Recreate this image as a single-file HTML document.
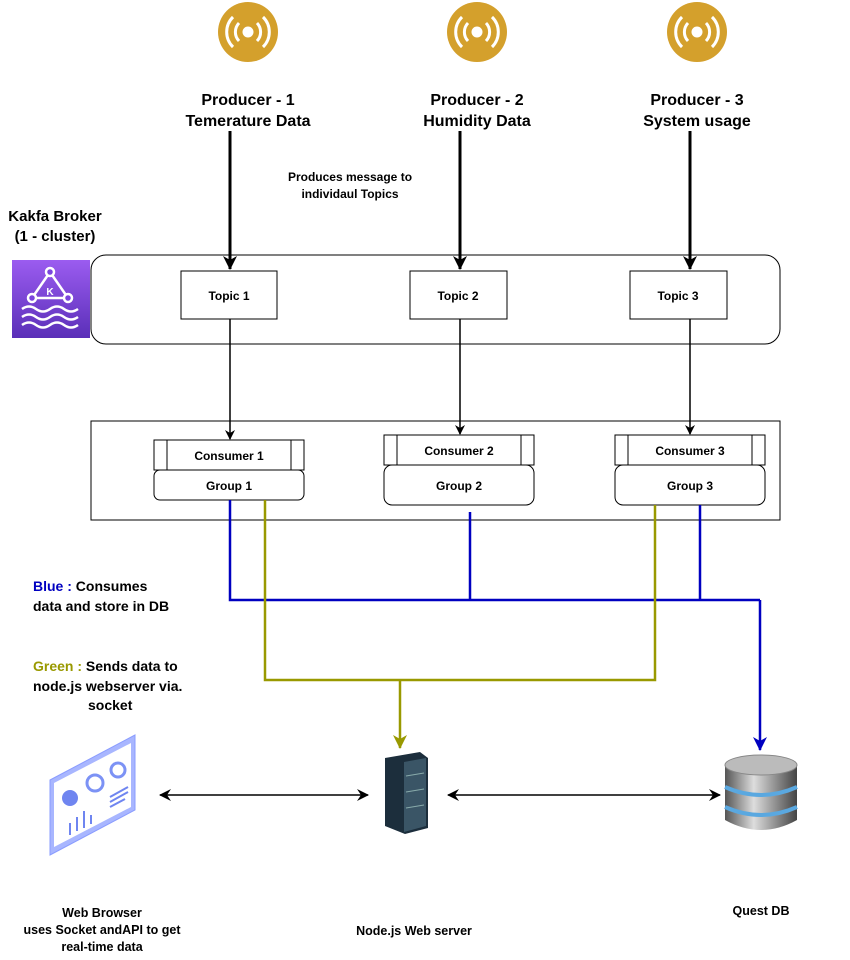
<!DOCTYPE html>
<html><head><style>body{margin:0;background:#fff}svg{display:block;font-family:"Liberation Sans",Arial,sans-serif;font-weight:bold}</style></head>
<body>
<svg width="850" height="960" viewBox="0 0 850 960" xmlns="http://www.w3.org/2000/svg">
<defs>
<marker id="ab" markerWidth="10" markerHeight="10" refX="9" refY="5" orient="auto" markerUnits="userSpaceOnUse"><path d="M0,0 L10,5 L0,10 L3,5z" fill="#000"/></marker>
<marker id="abt" markerWidth="14" markerHeight="14" refX="13" refY="7" orient="auto" markerUnits="userSpaceOnUse"><path d="M0,0 L14,7 L0,14 L4,7z" fill="#000"/></marker>
<marker id="ab2" markerWidth="12" markerHeight="12" refX="11" refY="6" orient="auto-start-reverse" markerUnits="userSpaceOnUse"><path d="M0,0 L12,6 L0,12 L4,6z" fill="#000"/></marker>
<marker id="ablue" markerWidth="14" markerHeight="14" refX="13" refY="7" orient="auto" markerUnits="userSpaceOnUse"><path d="M0,0 L14,7 L0,14 L4,7z" fill="#0000c0"/></marker>
<marker id="agreen" markerWidth="14" markerHeight="14" refX="13" refY="7" orient="auto" markerUnits="userSpaceOnUse"><path d="M0,0 L14,7 L0,14 L4,7z" fill="#999900"/></marker>
<linearGradient id="kg" x1="0" y1="0" x2="0" y2="1"><stop offset="0" stop-color="#9b5cf0"/><stop offset="1" stop-color="#5a2fb8"/></linearGradient>
<linearGradient id="dbg" x1="0" y1="0" x2="1" y2="0"><stop offset="0" stop-color="#555"/><stop offset=".4" stop-color="#ddd"/><stop offset="1" stop-color="#444"/></linearGradient>
</defs>
<g fill="#d4a02c">
<circle cx="248" cy="32" r="30"/><circle cx="477" cy="32" r="30"/><circle cx="697" cy="32" r="30"/>
</g>
<g fill="none" stroke="#fff" stroke-width="3">
<g transform="translate(248,32)"><circle r="4" fill="#fff"/><path d="M-9,-9 A13,13 0 0 0 -9,9 M9,-9 A13,13 0 0 1 9,9 M-15,-15 A21,21 0 0 0 -15,15 M15,-15 A21,21 0 0 1 15,15"/></g>
<g transform="translate(477,32)"><circle r="4" fill="#fff"/><path d="M-9,-9 A13,13 0 0 0 -9,9 M9,-9 A13,13 0 0 1 9,9 M-15,-15 A21,21 0 0 0 -15,15 M15,-15 A21,21 0 0 1 15,15"/></g>
<g transform="translate(697,32)"><circle r="4" fill="#fff"/><path d="M-9,-9 A13,13 0 0 0 -9,9 M9,-9 A13,13 0 0 1 9,9 M-15,-15 A21,21 0 0 0 -15,15 M15,-15 A21,21 0 0 1 15,15"/></g>
</g>
<g font-size="16" text-anchor="middle" fill="#000">
<text x="248" y="105">Producer - 1</text><text x="248" y="126">Temerature Data</text>
<text x="477" y="105">Producer - 2</text><text x="477" y="126">Humidity Data</text>
<text x="697" y="105">Producer - 3</text><text x="697" y="126">System usage</text>
</g>
<g font-size="12" text-anchor="middle"><text x="350" y="181">Produces message to</text><text x="350" y="198">individaul Topics</text></g>
<g font-size="15" text-anchor="middle"><text x="55" y="221">Kakfa Broker</text><text x="55" y="241">(1 - cluster)</text></g>
<rect x="12" y="260" width="78" height="78" fill="url(#kg)"/>
<g stroke="#fff" stroke-width="2.5" fill="none">
<path d="M50,272 L32,298 L68,298 Z"/><circle cx="50" cy="272" r="4" fill="#7b45dd"/><circle cx="32" cy="298" r="4" fill="#7b45dd"/><circle cx="68" cy="298" r="4" fill="#7b45dd"/>
<path d="M22,309 q7,-5 14,0 t14,0 t14,0 t14,0 M22,317 q7,-5 14,0 t14,0 t14,0 t14,0 M22,325 q7,-5 14,0 t14,0 t14,0 t14,0"/>
</g>
<text x="50" y="295" font-size="10" fill="#fff" text-anchor="middle">K</text>
<rect x="91" y="255" width="689" height="89" rx="15" fill="none" stroke="#000"/>
<g fill="#fff" stroke="#000"><rect x="181" y="271" width="96" height="48"/><rect x="410" y="271" width="97" height="48"/><rect x="630" y="271" width="97" height="48"/></g>
<g font-size="12" text-anchor="middle"><text x="229" y="300">Topic 1</text><text x="458" y="300">Topic 2</text><text x="678" y="300">Topic 3</text></g>
<g stroke="#000" stroke-width="3" marker-end="url(#abt)"><line x1="230" y1="131" x2="230" y2="269"/><line x1="460" y1="131" x2="460" y2="269"/><line x1="690" y1="131" x2="690" y2="269"/></g>
<g stroke="#000" stroke-width="1.5" marker-end="url(#ab)"><line x1="230" y1="319" x2="230" y2="439"/><line x1="460" y1="319" x2="460" y2="434"/><line x1="690" y1="319" x2="690" y2="434"/></g>
<rect x="91" y="421" width="689" height="99" fill="none" stroke="#000"/>
<g fill="#fff" stroke="#000">
<rect x="154" y="440" width="150" height="30"/><line x1="167" y1="440" x2="167" y2="470"/><line x1="291" y1="440" x2="291" y2="470"/>
<rect x="154" y="470" width="150" height="30" rx="6"/>
<rect x="384" y="435" width="150" height="30"/><line x1="397" y1="435" x2="397" y2="465"/><line x1="521" y1="435" x2="521" y2="465"/>
<rect x="384" y="465" width="150" height="40" rx="8"/>
<rect x="615" y="435" width="150" height="30"/><line x1="628" y1="435" x2="628" y2="465"/><line x1="752" y1="435" x2="752" y2="465"/>
<rect x="615" y="465" width="150" height="40" rx="8"/>
</g>
<g font-size="12" text-anchor="middle">
<text x="229" y="460">Consumer 1</text><text x="229" y="490">Group 1</text>
<text x="459" y="455">Consumer 2</text><text x="459" y="490">Group 2</text>
<text x="690" y="455">Consumer 3</text><text x="690" y="490">Group 3</text>
</g>
<g stroke="#0000c0" stroke-width="2.5" fill="none">
<path d="M230,500 V600 H760"/><path d="M470,512 V600"/><path d="M700,505 V600"/>
<path d="M760,600 V750" marker-end="url(#ablue)"/>
</g>
<g stroke="#999900" stroke-width="2.5" fill="none">
<path d="M265,500 V680 H655 V505"/>
<path d="M400,680 V748" marker-end="url(#agreen)"/>
</g>
<g font-size="14">
<text x="33" y="591"><tspan fill="#0000c0">Blue : </tspan>Consumes</text><text x="33" y="611">data and store in DB</text>
<text x="33" y="671"><tspan fill="#999900">Green : </tspan>Sends data to</text>
<text x="33" y="691">node.js webserver via.</text><text x="88" y="710">socket</text>
</g>
<g transform="translate(50,735)">
<path d="M0,45 L85,0 L85,75 L0,120 Z" fill="#a8b6ff" stroke="#8a9cff"/>
<path d="M4,48 L81,8 L81,72 L4,112 Z" fill="#fff"/>
<circle cx="20" cy="63" r="8" fill="#6f85f0"/><circle cx="45" cy="48" r="8" fill="none" stroke="#7c92f5" stroke-width="3"/><circle cx="68" cy="35" r="7" fill="none" stroke="#7c92f5" stroke-width="3"/>
<g stroke="#6f85f0" stroke-width="2"><line x1="20" y1="100" x2="20" y2="88"/><line x1="27" y1="96" x2="27" y2="82"/><line x1="34" y1="93" x2="34" y2="76"/><line x1="41" y1="89" x2="41" y2="80"/><line x1="60" y1="62" x2="78" y2="52"/><line x1="60" y1="67" x2="78" y2="57"/><line x1="60" y1="72" x2="75" y2="64"/></g>
</g>
<path d="M385,758 L420,752 L428,758 L428,828 L405,834 L385,826 Z" fill="#1c2e3c"/>
<path d="M404,762 L426,758 L426,826 L404,832 Z" fill="#3a5566"/>
<g stroke="#8aa" stroke-width="1"><line x1="406" y1="776" x2="424" y2="773"/><line x1="406" y1="792" x2="424" y2="789"/><line x1="406" y1="808" x2="424" y2="805"/></g>
<g transform="translate(725,755)">
<path d="M0,10 L0,65 Q36,85 72,65 L72,10 Z" fill="url(#dbg)"/>
<ellipse cx="36" cy="10" rx="36" ry="10" fill="#bbb" stroke="#888"/>
<path d="M0,32 Q36,48 72,32" stroke="#5aa8e0" stroke-width="4" fill="none"/>
<path d="M0,52 Q36,68 72,52" stroke="#5aa8e0" stroke-width="4" fill="none"/>
</g>
<g stroke="#000" stroke-width="1.5" marker-start="url(#ab2)" marker-end="url(#ab2)"><line x1="160" y1="795" x2="368" y2="795"/><line x1="448" y1="795" x2="720" y2="795"/></g>
<g font-size="12.5" text-anchor="middle">
<text x="102" y="917">Web Browser</text><text x="102" y="934">uses Socket andAPI to get</text><text x="102" y="951">real-time data</text>
<text x="414" y="935">Node.js Web server</text>
<text x="761" y="915">Quest DB</text>
</g>
</svg>
</body></html>
